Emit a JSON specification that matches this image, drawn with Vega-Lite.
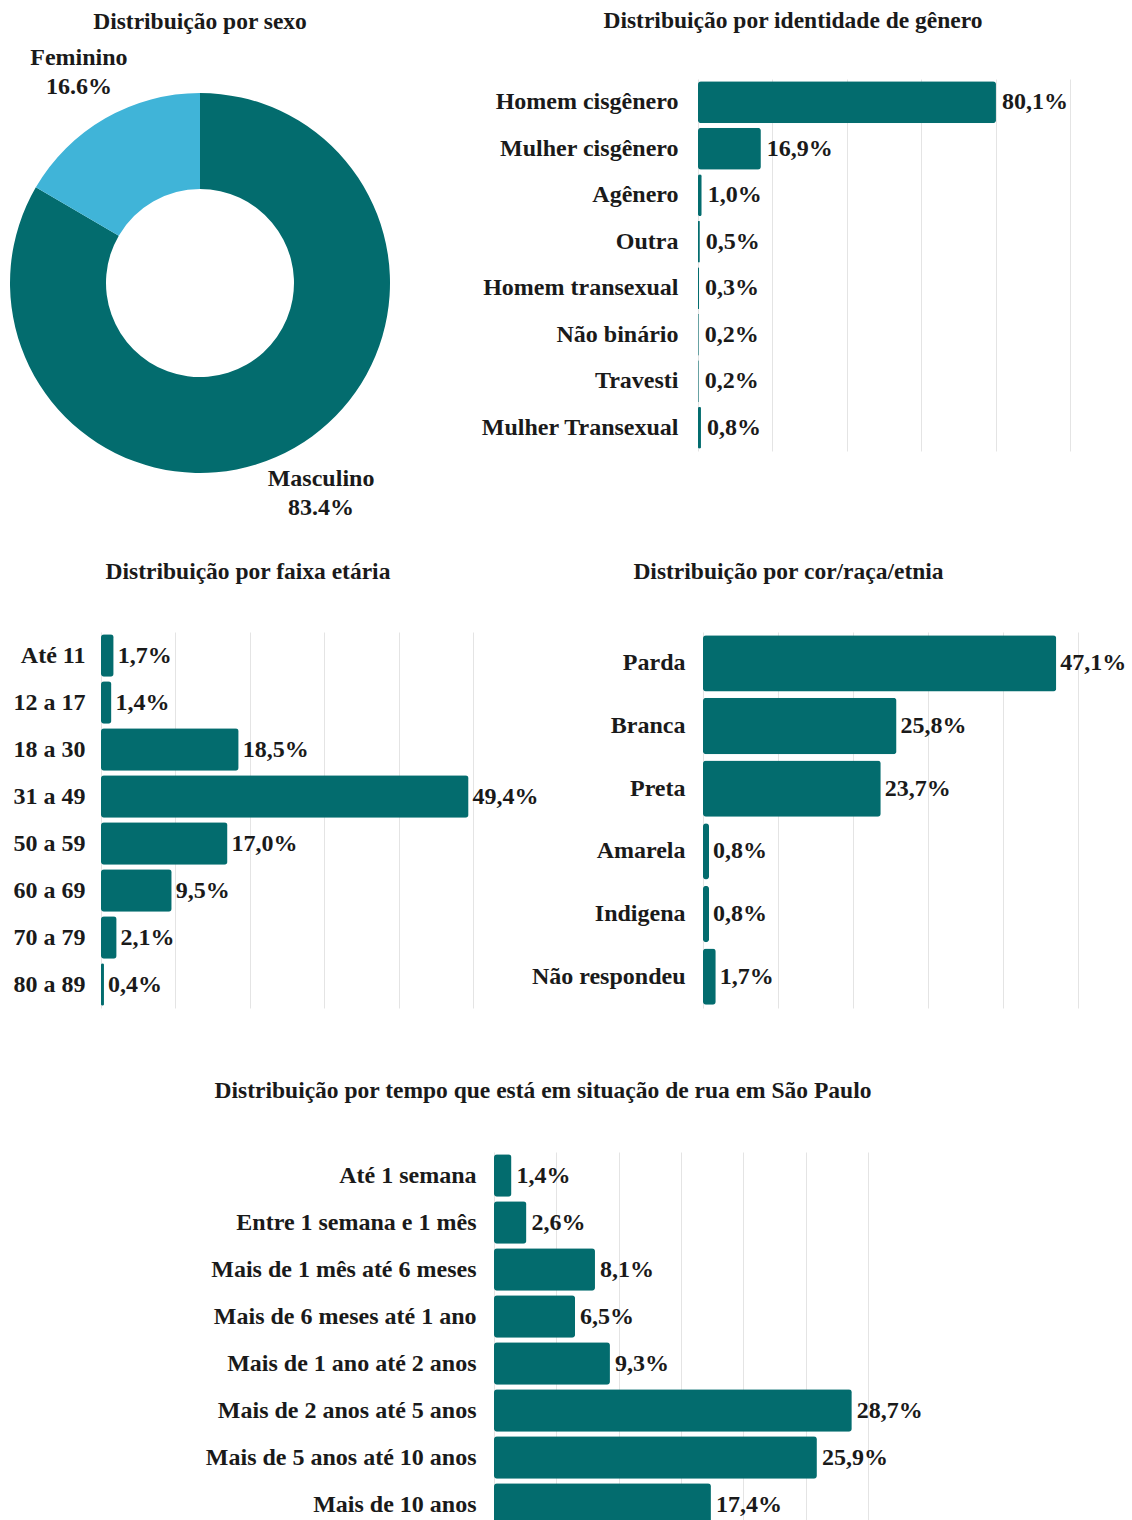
{
  "$schema": "https://vega.github.io/schema/vega-lite/v6.json",
  "autosize": {"type": "pad"},
  "padding": {"left": 10, "top": 8, "right": 0, "bottom": 0},
  "background": "white",
  "config": {
    "view": {"stroke": null},
    "font": "Liberation Serif",
    "locale": {"number": {"decimal": ",", "thousands": ".", "grouping": [3], "currency": ["", "%"]}},
    "axis": {"labelFont": "Liberation Serif", "labelFontSize": 24, "labelFontWeight": "bold", "labelColor": "#1a1a1a", "gridColor": "#e4e4e4", "labelLimit": 400},
    "title": {"font": "Liberation Serif", "fontSize": 23.5, "fontWeight": "bold", "color": "#1a1a1a"},
    "text": {"font": "Liberation Serif", "fontSize": 24, "fontWeight": "bold", "color": "#1a1a1a"}
  },
  "spacing": 38,
  "vconcat": [
    {
      "spacing": 78,
      "hconcat": [
        {
          "width": 380,
          "height": 408,
          "title": {"text": "Distribuição por sexo", "offset": 12},
          "data": {"values": [
            {"sexo": "Masculino", "pct": 83.4, "rotulo": "Masculino\n83.4%"},
            {"sexo": "Feminino", "pct": 16.6, "rotulo": "Feminino\n16.6%"}
          ]},
          "encoding": {
            "theta": {"field": "pct", "type": "quantitative", "stack": true},
            "order": {"field": "sexo", "sort": "descending"}
          },
          "layer": [
            {
              "mark": {"type": "arc", "outerRadius": 190, "innerRadius": 94},
              "encoding": {
                "color": {"field": "sexo", "type": "nominal", "scale": {"domain": ["Masculino", "Feminino"], "range": ["#036C6E", "#40B4D8"]}, "legend": null}
              }
            },
            {
              "mark": {"type": "text", "radius": 243, "lineBreak": "\n", "align": "center", "baseline": "middle", "lineHeight": 29, "dy": -14.5},
              "encoding": {
                "detail": {"field": "sexo", "type": "nominal"},
                "text": {"field": "rotulo", "type": "nominal"}
              }
            }
          ]
        },
        {
          "width": 372,
          "height": 372,
          "title": {"text": "Distribuição por identidade de gênero", "offset": 47, "anchor": "middle", "frame": "group", "dx": -91},
          "data": {"values": [
            {"cat": "Homem cisgênero", "pct": 80.1},
            {"cat": "Mulher cisgênero", "pct": 16.9},
            {"cat": "Agênero", "pct": 1.0},
            {"cat": "Outra", "pct": 0.5},
            {"cat": "Homem transexual", "pct": 0.3},
            {"cat": "Não binário", "pct": 0.2},
            {"cat": "Travesti", "pct": 0.2},
            {"cat": "Mulher Transexual", "pct": 0.8}
          ]},
          "encoding": {
            "y": {"field": "cat", "type": "nominal", "sort": null, "scale": {"paddingInner": 0.1, "paddingOuter": 0.05}, "axis": {"title": null, "ticks": false, "domain": false, "labelPadding": 20, "minExtent": 230}},
            "x": {"field": "pct", "type": "quantitative", "scale": {"domain": [0, 100], "nice": false}, "axis": {"values": [0, 20, 40, 60, 80, 100], "labels": false, "ticks": false, "domain": false, "title": null, "grid": true}}
          },
          "layer": [
            {"mark": {"type": "bar", "color": "#036C6E", "cornerRadius": 3}},
            {"mark": {"type": "text", "align": "left", "baseline": "middle", "dx": 6}, "encoding": {"text": {"field": "pct", "type": "quantitative", "format": "$.1f"}}}
          ]
        }
      ]
    },
    {
      "spacing": 0,
      "hconcat": [
        {"width": 1, "height": 1, "view": {"fill": "white", "stroke": null}, "data": {"values": [{}]}, "mark": {"type": "point", "opacity": 0, "size": 0, "strokeWidth": 0}},
        {
          "spacing": 230,
          "bounds": "flush",
          "hconcat": [
            {
              "width": 372,
              "height": 376,
              "title": {"text": "Distribuição por faixa etária", "offset": 49, "anchor": "middle", "frame": "group", "dx": -39},
              "data": {"values": [
                {"cat": "Até 11", "pct": 1.7},
                {"cat": "12 a 17", "pct": 1.4},
                {"cat": "18 a 30", "pct": 18.5},
                {"cat": "31 a 49", "pct": 49.4},
                {"cat": "50 a 59", "pct": 17.0},
                {"cat": "60 a 69", "pct": 9.5},
                {"cat": "70 a 79", "pct": 2.1},
                {"cat": "80 a 89", "pct": 0.4}
              ]},
              "encoding": {
                "y": {"field": "cat", "type": "nominal", "sort": null, "scale": {"paddingInner": 0.1, "paddingOuter": 0.05}, "axis": {"title": null, "ticks": false, "domain": false, "labelPadding": 16, "minExtent": 90}},
                "x": {"field": "pct", "type": "quantitative", "scale": {"domain": [0, 50], "nice": false}, "axis": {"values": [0, 10, 20, 30, 40, 50], "labels": false, "ticks": false, "domain": false, "title": null, "grid": true, "minExtent": 32}}
              },
              "layer": [
                {"mark": {"type": "bar", "color": "#036C6E", "cornerRadius": 3}},
                {"mark": {"type": "text", "align": "left", "baseline": "middle", "dx": 4}, "encoding": {"text": {"field": "pct", "type": "quantitative", "format": "$.1f"}}}
              ]
            },
            {
              "width": 375,
              "height": 376,
              "title": {"text": "Distribuição por cor/raça/etnia", "offset": 49, "anchor": "middle", "frame": "group", "dx": -102},
              "data": {"values": [
                {"cat": "Parda", "pct": 47.1},
                {"cat": "Branca", "pct": 25.8},
                {"cat": "Preta", "pct": 23.7},
                {"cat": "Amarela", "pct": 0.8},
                {"cat": "Indigena", "pct": 0.8},
                {"cat": "Não respondeu", "pct": 1.7}
              ]},
              "encoding": {
                "y": {"field": "cat", "type": "nominal", "sort": null, "scale": {"paddingInner": 0.1, "paddingOuter": 0.05}, "axis": {"title": null, "ticks": false, "domain": false, "labelPadding": 18}},
                "x": {"field": "pct", "type": "quantitative", "scale": {"domain": [0, 50], "nice": false}, "axis": {"values": [0, 10, 20, 30, 40, 50], "labels": false, "ticks": false, "domain": false, "title": null, "grid": true, "minExtent": 32}}
              },
              "layer": [
                {"mark": {"type": "bar", "color": "#036C6E", "cornerRadius": 3}},
                {"mark": {"type": "text", "align": "left", "baseline": "middle", "dx": 4}, "encoding": {"text": {"field": "pct", "type": "quantitative", "format": "$.1f"}}}
              ]
            }
          ]
        }
      ]
    },
    {
      "spacing": 0,
      "hconcat": [
        {"width": 1, "height": 1, "view": {"fill": "white", "stroke": null}, "data": {"values": [{}]}, "mark": {"type": "point", "opacity": 0, "size": 0, "strokeWidth": 0}},
        {
          "width": 374,
          "height": 376,
          "title": {"text": "Distribuição por tempo que está em situação de rua em São Paulo", "offset": 50, "anchor": "middle", "frame": "group", "dx": -138},
          "data": {"values": [
            {"cat": "Até 1 semana", "pct": 1.4},
            {"cat": "Entre 1 semana e 1 mês", "pct": 2.6},
            {"cat": "Mais de 1 mês até 6 meses", "pct": 8.1},
            {"cat": "Mais de 6 meses até 1 ano", "pct": 6.5},
            {"cat": "Mais de 1 ano até 2 anos", "pct": 9.3},
            {"cat": "Mais de 2 anos até 5 anos", "pct": 28.7},
            {"cat": "Mais de 5 anos até 10 anos", "pct": 25.9},
            {"cat": "Mais de 10 anos", "pct": 17.4}
          ]},
          "encoding": {
            "y": {"field": "cat", "type": "nominal", "sort": null, "scale": {"paddingInner": 0.1, "paddingOuter": 0.05}, "axis": {"title": null, "ticks": false, "domain": false, "labelPadding": 18, "minExtent": 483}},
            "x": {"field": "pct", "type": "quantitative", "scale": {"domain": [0, 30], "nice": false}, "axis": {"values": [0, 5, 10, 15, 20, 25, 30], "labels": false, "ticks": false, "domain": false, "title": null, "grid": true}}
          },
          "layer": [
            {"mark": {"type": "bar", "color": "#036C6E", "cornerRadius": 3}},
            {"mark": {"type": "text", "align": "left", "baseline": "middle", "dx": 5}, "encoding": {"text": {"field": "pct", "type": "quantitative", "format": "$.1f"}}}
          ]
        }
      ]
    }
  ]
}
